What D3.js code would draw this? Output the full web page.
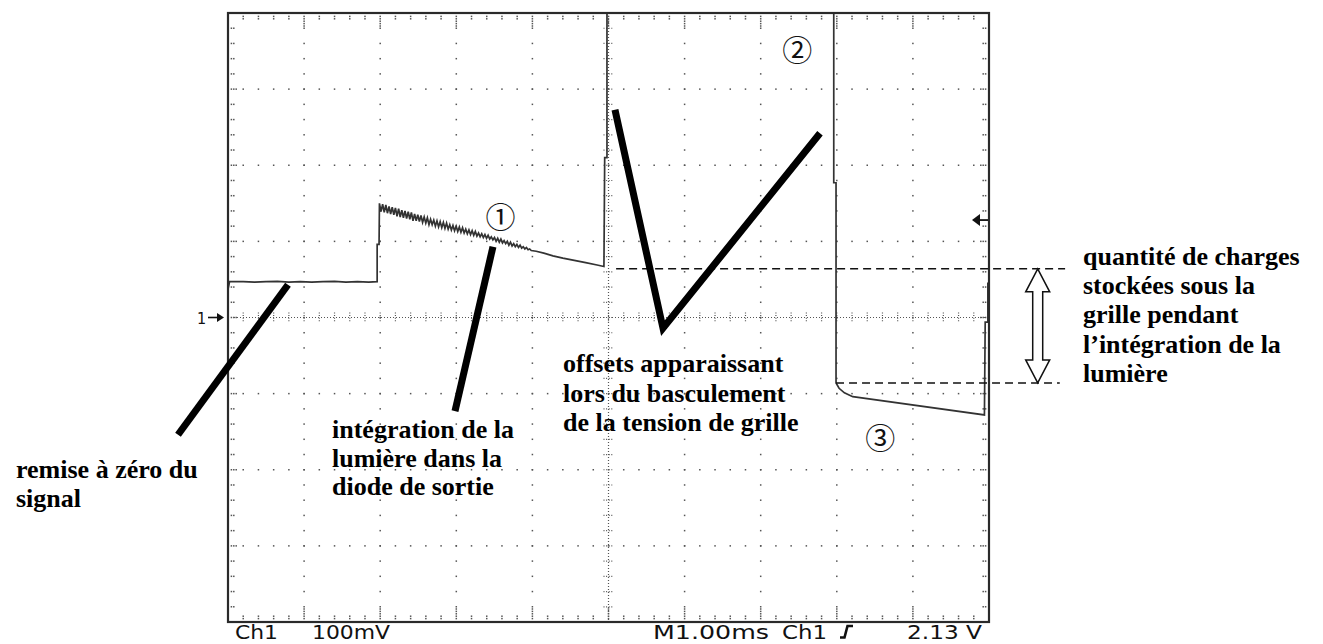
<!DOCTYPE html>
<html>
<head>
<meta charset="utf-8">
<script src="https://cdn.jsdelivr.net/npm/d3@7"></script>
<style>
  html, body { margin: 0; padding: 0; background: #fff; }
  svg { display: block; }
</style>
</head>
<body>
<svg id="scope" width="1323" height="644"></svg>
<script>
// ---- Screen divisions: 10 x 1.00 ms horizontally, 8 x 100 mV vertically ----
const timeDivisionsMs = [0, 1, 2, 3, 4, 5, 6, 7, 8, 9, 10];
const voltDivisionsMv = [-400, -300, -200, -100, 0, 100, 200, 300, 400];
const subdivisionsPerDiv = 5;

// ---- Channel readout shown under the graticule ----
const channelName = "Ch1";
const voltsPerDivLabel = "100mV";
const timeBaseLabel = "M1.00ms";
const triggerSourceLabel = "Ch1";
const triggerLevelLabel = "2.13 V";
const groundMarkerLabel = "1";
const groundLevelMv = 0;
const triggerMarkerMv = 128;

// ---- Trace, part 1: reset level, then first step (time in ms, level in mV) ----
const resetTimeMs = [0, 0.02, 0.2, 0.35, 0.5, 0.65, 0.8, 0.95, 1.1, 1.25, 1.4, 1.55, 1.7, 1.85, 1.96, 1.96, 1.985];
const resetMv     = [37, 47, 47, 46.5, 47, 47.5, 46.5, 47, 46.5, 47, 47.5, 46.5, 47, 46.5, 47, 96, 96];

// ---- Trace, part 2: light integration, sampled every 0.021 ms (clock ripple on the signal) ----
const integrationStartMs = 1.99;
const integrationStepMs = 0.021;
const integrationMv = [
  150, 139, 149, 138, 148, 137, 146, 136, 145, 135,
  144, 133, 143, 132, 141, 131, 140, 130, 139, 129,
  138, 127, 136, 127, 135, 126, 134, 125, 132, 124,
  131, 122, 129, 122, 128, 120, 127, 119, 126, 118,
  125, 117, 124, 116, 122, 115, 121, 114, 120, 113,
  119, 112, 118, 111, 116, 110, 115, 109, 114, 108,
  113, 107, 111, 106, 110, 105, 109, 104, 108, 103,
  106, 102, 105, 100, 104, 99, 103, 98, 101, 97,
  100, 95, 99, 94, 97, 93, 96, 92, 95, 91,
  93, 90, 92, 89, 90, 88
];

// ---- Trace, part 3: end of integration, gate switching, charge transfer, next reset ----
const transferTimeMs = [4.05, 4.15, 4.27, 4.4, 4.55, 4.7, 4.85, 4.94, 4.95, 4.98, 4.98, 7.96, 7.96, 7.99, 7.99, 8.03, 8.1, 8.21, 9.94, 9.95, 9.985, 9.985, 10];
const transferMv     = [87, 84.5, 81, 78, 75, 72, 69, 67, 210, 210, 600, 600, 177, 177, -86, -93, -99, -104, -128, -6, -6, 45, 45];

// ---- Stored-charge bracket: levels before and after the transfer ----
const chargeLevelsMv = [64, -86];

// ---- Annotation text ----
const resetText = ["remise à zéro du", "signal"];
const integrationText = ["intégration de la", "lumière dans la", "diode de sortie"];
const offsetText = ["offsets apparaissant", "lors du basculement", "de la tension de grille"];
const chargeText = ["quantité de charges", "stockées sous la", "grille pendant", "l’intégration de la", "lumière"];
const phaseMarks = ["①", "②", "③"];

// =====================================================================
const svg = d3.select("#scope");
const x = d3.scaleLinear().domain([0, 10]).range([228, 989]);
const y = d3.scaleLinear().domain([-400, 400]).range([622, 13]);
const [X0, X1] = x.range();
const [Y1, Y0] = y.range();

const minorT = d3.range(0, 10 + 1e-9, 1 / subdivisionsPerDiv).map(v => +v.toFixed(3));
const minorV = d3.range(-400, 400 + 1e-9, 100 / subdivisionsPerDiv).map(v => +v.toFixed(3));
const gridColor = "#555";

const grid = svg.append("g").attr("class", "graticule");

// dotted major lines (one dot per subdivision)
const dots = [];
timeDivisionsMs.filter(t => t > 0 && t < 10 && t !== 5).forEach(t => {
  minorV.filter(v => v > -400 && v < 400).forEach(v => dots.push([x(t), y(v)]));
});
voltDivisionsMv.filter(v => v > -400 && v < 400 && v !== 0).forEach(v => {
  minorT.filter(t => t > 0 && t < 10).forEach(t => dots.push([x(t), y(v)]));
});
// subdivision marks along the frame
minorT.filter(t => t > 0 && t < 10).forEach(t => {
  const major = Math.abs(t - Math.round(t)) < 1e-6;
  const n = major ? 5 : 2;
  for (let i = 1; i <= n; i++) {
    dots.push([x(t), Y0 + 1 + i * 2.4]);
    dots.push([x(t), Y1 - 1 - i * 2.4]);
  }
});
minorV.filter(v => v > -400 && v < 400).forEach(v => {
  const major = Math.abs(v / 100 - Math.round(v / 100)) < 1e-6;
  const n = major ? 3 : 2;
  for (let i = 1; i <= n; i++) {
    dots.push([X0 + 1 + i * 2.4, y(v)]);
    dots.push([X1 - 1 - i * 2.4, y(v)]);
  }
});
grid.selectAll("rect.dot").data(dots).join("rect")
  .attr("class", "dot")
  .attr("x", d => d[0] - 0.75).attr("y", d => d[1] - 0.75)
  .attr("width", 1.5).attr("height", 1.5)
  .attr("fill", gridColor);

// centre cross with finely dotted axes and subdivision ticks
grid.append("line")
  .attr("x1", X0).attr("x2", X1).attr("y1", y(0)).attr("y2", y(0))
  .attr("stroke", gridColor).attr("stroke-width", 1.2).attr("stroke-dasharray", "1,2");
grid.append("line")
  .attr("x1", x(5)).attr("x2", x(5)).attr("y1", Y0).attr("y2", Y1)
  .attr("stroke", gridColor).attr("stroke-width", 1.2).attr("stroke-dasharray", "1,2");
grid.selectAll("line.hTick").data(minorT.filter(t => t > 0 && t < 10)).join("line")
  .attr("class", "hTick")
  .attr("x1", d => x(d)).attr("x2", d => x(d))
  .attr("y1", y(0) - 5).attr("y2", y(0) + 5)
  .attr("stroke", gridColor).attr("stroke-width", 1.2).attr("stroke-dasharray", "1,1.6");
grid.selectAll("line.vTick").data(minorV.filter(v => v > -400 && v < 400)).join("line")
  .attr("class", "vTick")
  .attr("x1", x(5) - 5).attr("x2", x(5) + 5)
  .attr("y1", d => y(d)).attr("y2", d => y(d))
  .attr("stroke", gridColor).attr("stroke-width", 1.2).attr("stroke-dasharray", "1,1.6");

// ---- trace ----
const integrationTimeMs = integrationMv.map((_, i) => integrationStartMs + i * integrationStepMs);
const trace = [
  ...resetTimeMs.map((t, i) => [t, resetMv[i]]),
  ...integrationTimeMs.map((t, i) => [t, integrationMv[i]]),
  ...transferTimeMs.map((t, i) => [t, transferMv[i]])
];
svg.append("clipPath").attr("id", "screenClip")
  .append("rect").attr("x", X0).attr("y", Y0).attr("width", X1 - X0).attr("height", Y1 - Y0);
svg.append("path")
  .datum(trace)
  .attr("clip-path", "url(#screenClip)")
  .attr("d", d3.line().x(d => x(d[0])).y(d => y(d[1])))
  .attr("fill", "none")
  .attr("stroke", "#333")
  .attr("stroke-width", 1.7)
  .attr("stroke-linejoin", "miter");

// ---- frame ----
svg.append("rect")
  .attr("x", X0).attr("y", Y0).attr("width", X1 - X0).attr("height", Y1 - Y0)
  .attr("fill", "none").attr("stroke", "#2a2a2a").attr("stroke-width", 2.2);

// ---- ground and trigger markers ----
svg.append("text")
  .attr("x", X0 - 31).attr("y", y(groundLevelMv) + 6)
  .attr("font-family", "DejaVu Sans Condensed, DejaVu Sans, sans-serif").attr("font-size", 16)
  .attr("fill", "#111").text(groundMarkerLabel);
svg.append("path")
  .attr("d", `M${X0 - 20},${y(groundLevelMv)} H${X0 - 10}`)
  .attr("stroke", "#111").attr("stroke-width", 1.6);
svg.append("path")
  .attr("d", `M${X0 - 4},${y(groundLevelMv)} l-7,-4.5 v9 z`)
  .attr("fill", "#111");
svg.append("path")
  .attr("d", `M${X1 - 17},${y(triggerMarkerMv)} l8,-6 v12 z`)
  .attr("fill", "#111");
svg.append("path")
  .attr("d", `M${X1 - 10},${y(triggerMarkerMv)} H${X1 - 1}`)
  .attr("stroke", "#111").attr("stroke-width", 1.8);

// ---- channel readout ----
const readout = svg.append("g")
  .attr("font-family", "DejaVu Sans Condensed, DejaVu Sans, Liberation Sans Narrow, sans-serif")
  .attr("font-size", 19).attr("fill", "#111");
[
  [channelName, 235, 43],
  [voltsPerDivLabel, 312, 78],
  [timeBaseLabel, 653, 116],
  [triggerSourceLabel, 782, 45],
  [triggerLevelLabel, 907, 75]
].forEach(([label, left, width]) => {
  readout.append("text")
    .attr("x", left).attr("y", 639)
    .attr("textLength", width).attr("lengthAdjust", "spacingAndGlyphs")
    .text(label);
});
// rising-edge trigger slope symbol
svg.append("path")
  .attr("d", "M840,637.5 H844.5 L847.5,626 H853")
  .attr("fill", "none").attr("stroke", "#111").attr("stroke-width", 2.6);

// ---- stored-charge bracket ----
const bracket = svg.append("g");
bracket.append("line")
  .attr("x1", x(5.1)).attr("x2", x(11.0))
  .attr("y1", y(chargeLevelsMv[0])).attr("y2", y(chargeLevelsMv[0]))
  .attr("stroke", "#111").attr("stroke-width", 1.5).attr("stroke-dasharray", "8,5");
bracket.append("line")
  .attr("x1", x(7.99)).attr("x2", x(10.93))
  .attr("y1", y(chargeLevelsMv[1])).attr("y2", y(chargeLevelsMv[1]))
  .attr("stroke", "#111").attr("stroke-width", 1.5).attr("stroke-dasharray", "8,5");
{
  const ax = x(10.64), top = y(chargeLevelsMv[0]), bot = y(chargeLevelsMv[1]);
  const hw = 12, sw = 5, hl = 23;
  bracket.append("path")
    .attr("d", `M${ax},${top} L${ax + hw},${top + hl} H${ax + sw} V${bot - hl} H${ax + hw} L${ax},${bot} L${ax - hw},${bot - hl} H${ax - sw} V${top + hl} H${ax - hw} Z`)
    .attr("fill", "#fff").attr("stroke", "#111").attr("stroke-width", 1.5)
    .attr("stroke-linejoin", "miter");
}

// ---- pointer strokes ----
const pointers = [
  [[-0.657, -154], [0.788, 43]],
  [[2.983, -123], [3.482, 93]],
  [[5.085, 273], [5.716, -14], [7.779, 242]]
];
svg.selectAll("path.pointer").data(pointers).join("path")
  .attr("class", "pointer")
  .attr("d", d3.line().x(d => x(d[0])).y(d => y(d[1])))
  .attr("fill", "none").attr("stroke", "#000").attr("stroke-width", 7)
  .attr("stroke-linejoin", "miter").attr("stroke-linecap", "butt");

// ---- phase numbers ----
const phasePos = [[3.58, 134], [7.48, 354], [8.57, -156]];
svg.selectAll("text.phase").data(phaseMarks).join("text")
  .attr("class", "phase")
  .attr("x", (d, i) => x(phasePos[i][0]))
  .attr("y", (d, i) => y(phasePos[i][1]))
  .attr("text-anchor", "middle").attr("dominant-baseline", "central")
  .attr("font-family", "Noto Sans CJK JP, DejaVu Sans, sans-serif")
  .attr("font-size", 30).attr("fill", "#111")
  .text(d => d);

// ---- explanatory text ----
function block(lines, left, firstBaseline, step) {
  const g = svg.append("text")
    .attr("font-family", "Liberation Serif, Times New Roman, serif")
    .attr("font-weight", "bold").attr("font-size", 26).attr("fill", "#000");
  lines.forEach((s, i) => {
    g.append("tspan").attr("x", left).attr("y", firstBaseline + i * step).text(s);
  });
}
block(resetText, 16, 478, 29);
block(integrationText, 332, 438, 28.7);
block(offsetText, 563, 372, 29.5);
block(chargeText, 1083, 265, 29.2);
</script>
</body>
</html>
